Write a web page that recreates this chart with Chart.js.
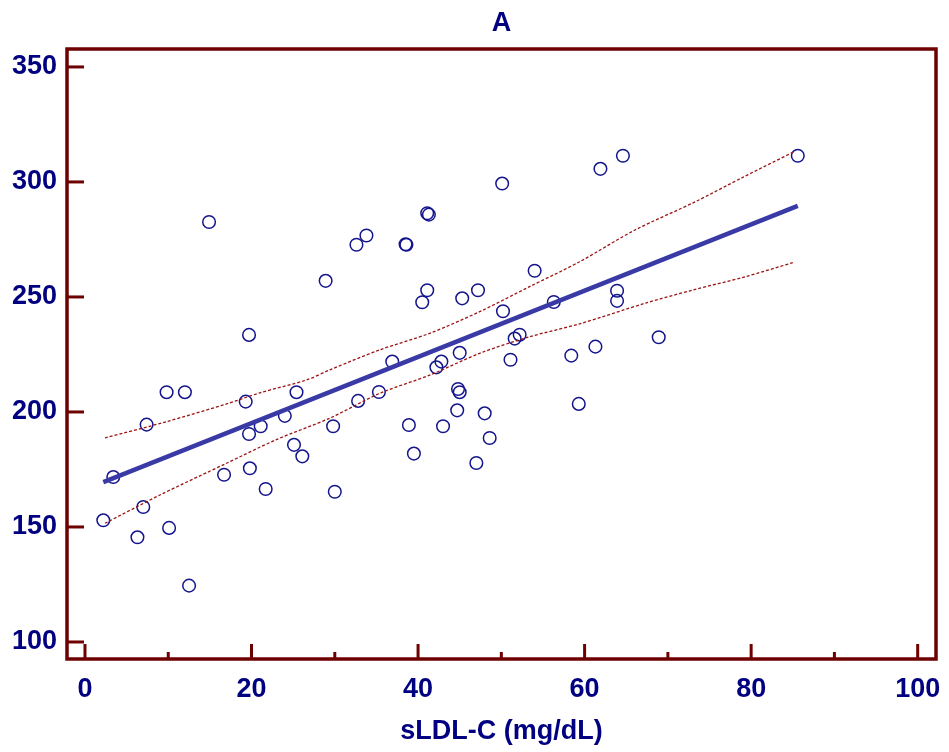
<!DOCTYPE html>
<html>
<head>
<meta charset="utf-8">
<script src="https://cdn.jsdelivr.net/npm/chart.js@4.4.0/dist/chart.umd.min.js"></script>
<style>
html,body{margin:0;padding:0;background:#fff;}
#wrap{width:949px;height:752px;}
</style>
</head>
<body>
<div id="wrap"><canvas id="c" width="949" height="752"></canvas></div>
<script>
// sLDL-C (x) values of each subject
const pointX = [2.2, 3.4, 6.3, 7.0, 7.4, 9.8, 10.1, 12.0, 12.5, 14.9,
  16.7, 19.3, 19.7, 19.7, 19.8, 21.1, 21.7, 24.0, 25.1, 25.4,
  26.1, 28.9, 29.8, 30.0, 32.6, 33.8, 32.8, 35.3, 36.9, 38.5,
  38.6, 38.9, 39.5, 40.5, 41.1, 41.1, 41.3, 42.2, 42.8, 43.0,
  44.7, 44.8, 45.0, 45.0, 45.3, 47.0, 47.2, 48.0, 48.6, 50.1,
  50.2, 51.1, 51.6, 52.2, 54.0, 56.3, 58.4, 59.3, 61.3, 61.9,
  63.9, 63.9, 64.6, 68.9, 85.6];
// y values of each subject
const pointY = [152.9, 171.7, 145.5, 158.7, 194.5, 208.6, 149.6, 208.6, 124.5, 282.6,
  172.7, 204.5, 233.5, 190.4, 175.5, 193.8, 166.5, 198.3, 185.7, 208.6,
  180.7, 257.0, 193.8, 165.3, 272.7, 276.7, 204.8, 208.7, 221.9, 272.9,
  272.7, 194.3, 181.9, 247.7, 252.9, 286.4, 285.8, 219.4, 221.9, 193.8,
  200.7, 210.0, 208.6, 225.7, 249.4, 177.8, 252.9, 199.4, 188.7, 299.3,
  243.8, 222.7, 231.9, 233.6, 261.4, 247.8, 224.5, 203.5, 228.4, 305.7,
  252.7, 248.3, 311.4, 232.5, 311.4];
// regression line end points
const regX = [2.2, 85.6];
const regY = [169.5, 289.6];
// upper confidence band
const upX = [2.4, 9.8, 17.0, 21.0, 26.6, 29.4, 35.4, 41.4, 47.4, 53.4, 59.4, 66.0, 73.3, 79.0, 85.3];
const upY = [188.7, 195.8, 203.5, 208.3, 213.9, 218.3, 227.0, 234.2, 243.6, 254.5, 265.3, 279.0, 291.4, 302.0, 313.4];
// lower confidence band
const loX = [2.4, 9.0, 17.0, 23.0, 29.4, 35.4, 41.4, 47.4, 53.4, 59.4, 67.3, 73.0, 79.3, 85.0];
const loY = [151.6, 163.9, 177.7, 188.0, 197.3, 208.1, 216.0, 225.5, 232.7, 238.3, 247.3, 253.0, 258.8, 264.9];
// tick values
const xTicks = [0, 20, 40, 60, 80, 100];
const xMinorTicks = [10, 30, 50, 70, 90];
const yTicks = [100, 150, 200, 250, 300, 350];
const chartTitle = 'A';
const xTitle = 'sLDL-C (mg/dL)';

const AXIS = '#6e0000';
const NAVY = '#000080';
const FONT = "'Liberation Sans', Arial, sans-serif";

const zip = (xs, ys) => xs.map((x, i) => ({x, y: ys[i]}));

const framePlugin = {
  id: 'frame',
  beforeDatasetsDraw(chart) {
    const {ctx, chartArea: a, scales: {x, y}} = chart;
    ctx.save();
    ctx.strokeStyle = AXIS;
    ctx.lineWidth = 3;
    ctx.lineCap = 'butt';
    yTicks.forEach(v => {
      const py = y.getPixelForValue(v);
      ctx.beginPath(); ctx.moveTo(a.left, py); ctx.lineTo(a.left + 17, py); ctx.stroke();
    });
    xTicks.forEach(v => {
      const px = x.getPixelForValue(v);
      ctx.beginPath(); ctx.moveTo(px, a.bottom); ctx.lineTo(px, a.bottom - 15); ctx.stroke();
    });
    xMinorTicks.forEach(v => {
      const px = x.getPixelForValue(v);
      ctx.beginPath(); ctx.moveTo(px, a.bottom); ctx.lineTo(px, a.bottom - 7); ctx.stroke();
    });
    ctx.lineWidth = 3.5;
    ctx.lineCap = 'square';
    ctx.strokeRect(a.left, a.top, a.right - a.left, a.bottom - a.top);
    // title centred over the plot frame
    ctx.fillStyle = NAVY;
    ctx.font = "bold 27px " + FONT;
    ctx.textAlign = 'center';
    ctx.textBaseline = 'middle';
    ctx.fillText(chartTitle, (a.left + a.right) / 2, 24);
    ctx.restore();
  }
};

new Chart(document.getElementById('c'), {
  type: 'scatter',
  data: {
    datasets: [
      {
        data: zip(regX, regY), showLine: true, borderColor: '#3a3aa6', borderWidth: 4.5,
        pointRadius: 0, order: 0
      },
      {
        data: zip(upX, upY), showLine: true, borderColor: '#9b1414', borderWidth: 1.3,
        borderDash: [3, 2], pointRadius: 0, tension: 0.3, order: 1
      },
      {
        data: zip(loX, loY), showLine: true, borderColor: '#9b1414', borderWidth: 1.3,
        borderDash: [3, 2], pointRadius: 0, tension: 0.3, order: 1
      },
      {
        data: zip(pointX, pointY), showLine: false, pointRadius: 6.3,
        pointBorderWidth: 1.5, pointBorderColor: '#14148c', pointBackgroundColor: 'rgba(0,0,0,0)',
        order: 2
      }
    ]
  },
  options: {
    responsive: false,
    animation: false,
    devicePixelRatio: 1,
    layout: {padding: {left: 0, right: 13, top: 49, bottom: 0}},
    plugins: {
      legend: {display: false},
      tooltip: {enabled: false},
      title: {display: false}
    },
    scales: {
      x: {
        type: 'linear', min: -2.16, max: 102.2,
        grid: {display: false, drawTicks: false},
        border: {display: false},
        ticks: {
          stepSize: 20, includeBounds: false, color: NAVY, padding: 14, maxRotation: 0,
          font: {family: FONT, size: 27, weight: 'bold'},
          callback: v => String(v)
        },
        title: {
          display: true, text: xTitle, color: NAVY,
          font: {family: FONT, size: 27, weight: 'bold'},
          padding: {top: 0, bottom: 4}
        },
        afterFit(s) { s.height = 93; s.paddingLeft = 0; s.paddingRight = 0; }
      },
      y: {
        type: 'linear', min: 92.6, max: 357.8,
        grid: {display: false, drawTicks: false},
        border: {display: false},
        ticks: {
          stepSize: 50, includeBounds: false, color: NAVY, padding: 10,
          font: {family: FONT, size: 27, weight: 'bold'},
          callback: v => String(v)
        },
        afterFit(s) { s.width = 67; s.paddingTop = 0; s.paddingBottom = 0; }
      }
    }
  },
  plugins: [framePlugin]
});
</script>
</body>
</html>
